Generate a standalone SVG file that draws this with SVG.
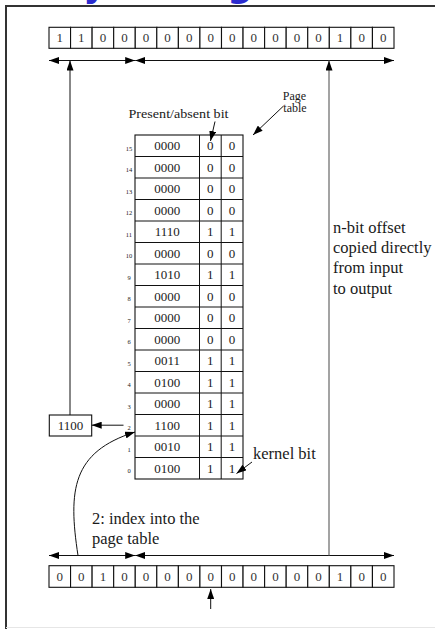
<svg xmlns="http://www.w3.org/2000/svg" width="435" height="629" viewBox="0 0 435 629">
  <style>
    .cell { fill: #fff; stroke: #111; stroke-width: 1.1; }
    .ln { fill: none; stroke: #111; stroke-width: 1; }
    .gray { fill: none; stroke: #666; stroke-width: 1.2; }
    .bit { font-family: "Liberation Serif", "DejaVu Serif", serif; font-size: 13px; text-anchor: middle; fill: #333; }
    .d { font-family: "Liberation Serif", "DejaVu Serif", serif; font-size: 13px; text-anchor: middle; fill: #1a1a1a; }
    .idx { font-family: "Liberation Serif", "DejaVu Serif", serif; font-size: 6.5px; text-anchor: middle; fill: #222; }
    .lbl { font-family: "Liberation Serif", "DejaVu Serif", serif; font-size: 16.5px; fill: #1a1a1a; }
    .sm { font-family: "Liberation Serif", "DejaVu Serif", serif; font-size: 12px; fill: #1a1a1a; }
    .title { font-family: "DejaVu Sans", sans-serif; font-weight: bold; font-size: 35.5px; fill: #2b2bcf; }
  </style>
  <defs>
    <marker id="ah" viewBox="0 0 10 7" refX="10" refY="3.5" markerWidth="10" markerHeight="7" markerUnits="userSpaceOnUse" orient="auto-start-reverse">
      <path d="M0,0 L10,3.5 L0,7 z" fill="#000"/>
    </marker>
  </defs>

  <rect x="0" y="0" width="435" height="629" fill="#fff"/>

  <!-- slide title, mostly above the visible area -->
  <text class="title" x="-55" y="-3.5">Memory Management</text>

  <!-- frame -->
  <path d="M6,629 V6 H436" fill="none" stroke="#333" stroke-width="2"/>
  <path d="M6,627.5 H435" fill="none" stroke="#e6e6e6" stroke-width="1"/>

  <!-- virtual address (input) -->
  <g id="input-address">
    <rect class="cell" x="49" y="565.7" width="21.56" height="21.6"/>
    <rect class="cell" x="70.56" y="565.7" width="21.56" height="21.6"/>
    <rect class="cell" x="92.12" y="565.7" width="21.56" height="21.6"/>
    <rect class="cell" x="113.69" y="565.7" width="21.56" height="21.6"/>
    <rect class="cell" x="135.25" y="565.7" width="21.56" height="21.6"/>
    <rect class="cell" x="156.81" y="565.7" width="21.56" height="21.6"/>
    <rect class="cell" x="178.38" y="565.7" width="21.56" height="21.6"/>
    <rect class="cell" x="199.94" y="565.7" width="21.56" height="21.6"/>
    <rect class="cell" x="221.5" y="565.7" width="21.56" height="21.6"/>
    <rect class="cell" x="243.06" y="565.7" width="21.56" height="21.6"/>
    <rect class="cell" x="264.62" y="565.7" width="21.56" height="21.6"/>
    <rect class="cell" x="286.19" y="565.7" width="21.56" height="21.6"/>
    <rect class="cell" x="307.75" y="565.7" width="21.56" height="21.6"/>
    <rect class="cell" x="329.31" y="565.7" width="21.56" height="21.6"/>
    <rect class="cell" x="350.88" y="565.7" width="21.56" height="21.6"/>
    <rect class="cell" x="372.44" y="565.7" width="21.56" height="21.6"/>
    <text class="bit" x="59.78" y="581">0</text>
    <text class="bit" x="81.34" y="581">0</text>
    <text class="bit" x="102.91" y="581">1</text>
    <text class="bit" x="124.47" y="581">0</text>
    <text class="bit" x="146.03" y="581">0</text>
    <text class="bit" x="167.59" y="581">0</text>
    <text class="bit" x="189.16" y="581">0</text>
    <text class="bit" x="210.72" y="581">0</text>
    <text class="bit" x="232.28" y="581">0</text>
    <text class="bit" x="253.84" y="581">0</text>
    <text class="bit" x="275.41" y="581">0</text>
    <text class="bit" x="296.97" y="581">0</text>
    <text class="bit" x="318.53" y="581">0</text>
    <text class="bit" x="340.09" y="581">1</text>
    <text class="bit" x="361.66" y="581">0</text>
    <text class="bit" x="383.22" y="581">0</text>
  </g>

  <!-- physical address (output) -->
  <g id="output-address">
    <rect class="cell" x="49" y="27.3" width="21.56" height="21"/>
    <rect class="cell" x="70.56" y="27.3" width="21.56" height="21"/>
    <rect class="cell" x="92.12" y="27.3" width="21.56" height="21"/>
    <rect class="cell" x="113.69" y="27.3" width="21.56" height="21"/>
    <rect class="cell" x="135.25" y="27.3" width="21.56" height="21"/>
    <rect class="cell" x="156.81" y="27.3" width="21.56" height="21"/>
    <rect class="cell" x="178.38" y="27.3" width="21.56" height="21"/>
    <rect class="cell" x="199.94" y="27.3" width="21.56" height="21"/>
    <rect class="cell" x="221.5" y="27.3" width="21.56" height="21"/>
    <rect class="cell" x="243.06" y="27.3" width="21.56" height="21"/>
    <rect class="cell" x="264.62" y="27.3" width="21.56" height="21"/>
    <rect class="cell" x="286.19" y="27.3" width="21.56" height="21"/>
    <rect class="cell" x="307.75" y="27.3" width="21.56" height="21"/>
    <rect class="cell" x="329.31" y="27.3" width="21.56" height="21"/>
    <rect class="cell" x="350.88" y="27.3" width="21.56" height="21"/>
    <rect class="cell" x="372.44" y="27.3" width="21.56" height="21"/>
    <text class="bit" x="59.78" y="42.3">1</text>
    <text class="bit" x="81.34" y="42.3">1</text>
    <text class="bit" x="102.91" y="42.3">0</text>
    <text class="bit" x="124.47" y="42.3">0</text>
    <text class="bit" x="146.03" y="42.3">0</text>
    <text class="bit" x="167.59" y="42.3">0</text>
    <text class="bit" x="189.16" y="42.3">0</text>
    <text class="bit" x="210.72" y="42.3">0</text>
    <text class="bit" x="232.28" y="42.3">0</text>
    <text class="bit" x="253.84" y="42.3">0</text>
    <text class="bit" x="275.41" y="42.3">0</text>
    <text class="bit" x="296.97" y="42.3">0</text>
    <text class="bit" x="318.53" y="42.3">0</text>
    <text class="bit" x="340.09" y="42.3">1</text>
    <text class="bit" x="361.66" y="42.3">0</text>
    <text class="bit" x="383.22" y="42.3">0</text>
  </g>

  <!-- page table: frame number | present bit | kernel bit -->
  <g id="page-table">
    <rect class="cell" x="135" y="135" width="108" height="344"/>
    <path class="ln" d="M199.5,135 V479 M221.2,135 V479" stroke-width="1.1"/>
    <path class="ln" stroke-width="1.1" d="M135,156.5 H243 M135,178 H243 M135,199.5 H243 M135,221 H243 M135,242.5 H243 M135,264 H243 M135,285.5 H243 M135,307 H243 M135,328.5 H243 M135,350 H243 M135,371.5 H243 M135,393 H243 M135,414.5 H243 M135,436 H243 M135,457.5 H243"/>

    <text class="idx" x="129" y="150.5">15</text>
    <text class="idx" x="129" y="172">14</text>
    <text class="idx" x="129" y="193.5">13</text>
    <text class="idx" x="129" y="215">12</text>
    <text class="idx" x="129" y="236.5">11</text>
    <text class="idx" x="129" y="258">10</text>
    <text class="idx" x="129" y="279.5">9</text>
    <text class="idx" x="129" y="301">8</text>
    <text class="idx" x="129" y="322.5">7</text>
    <text class="idx" x="129" y="344">6</text>
    <text class="idx" x="129" y="365.5">5</text>
    <text class="idx" x="129" y="387">4</text>
    <text class="idx" x="129" y="408.5">3</text>
    <text class="idx" x="129" y="430">2</text>
    <text class="idx" x="129" y="451.5">1</text>
    <text class="idx" x="129" y="473">0</text>

    <text class="d" x="167.25" y="150.3">0000</text><text class="d" x="210.35" y="150.3">0</text><text class="d" x="232.1" y="150.3">0</text>
    <text class="d" x="167.25" y="171.8">0000</text><text class="d" x="210.35" y="171.8">0</text><text class="d" x="232.1" y="171.8">0</text>
    <text class="d" x="167.25" y="193.3">0000</text><text class="d" x="210.35" y="193.3">0</text><text class="d" x="232.1" y="193.3">0</text>
    <text class="d" x="167.25" y="214.8">0000</text><text class="d" x="210.35" y="214.8">0</text><text class="d" x="232.1" y="214.8">0</text>
    <text class="d" x="167.25" y="236.3">1110</text><text class="d" x="210.35" y="236.3">1</text><text class="d" x="232.1" y="236.3">1</text>
    <text class="d" x="167.25" y="257.8">0000</text><text class="d" x="210.35" y="257.8">0</text><text class="d" x="232.1" y="257.8">0</text>
    <text class="d" x="167.25" y="279.3">1010</text><text class="d" x="210.35" y="279.3">1</text><text class="d" x="232.1" y="279.3">1</text>
    <text class="d" x="167.25" y="300.8">0000</text><text class="d" x="210.35" y="300.8">0</text><text class="d" x="232.1" y="300.8">0</text>
    <text class="d" x="167.25" y="322.3">0000</text><text class="d" x="210.35" y="322.3">0</text><text class="d" x="232.1" y="322.3">0</text>
    <text class="d" x="167.25" y="343.8">0000</text><text class="d" x="210.35" y="343.8">0</text><text class="d" x="232.1" y="343.8">0</text>
    <text class="d" x="167.25" y="365.3">0011</text><text class="d" x="210.35" y="365.3">1</text><text class="d" x="232.1" y="365.3">1</text>
    <text class="d" x="167.25" y="386.8">0100</text><text class="d" x="210.35" y="386.8">1</text><text class="d" x="232.1" y="386.8">1</text>
    <text class="d" x="167.25" y="408.3">0000</text><text class="d" x="210.35" y="408.3">1</text><text class="d" x="232.1" y="408.3">1</text>
    <text class="d" x="167.25" y="429.8">1100</text><text class="d" x="210.35" y="429.8">1</text><text class="d" x="232.1" y="429.8">1</text>
    <text class="d" x="167.25" y="451.3">0010</text><text class="d" x="210.35" y="451.3">1</text><text class="d" x="232.1" y="451.3">1</text>
    <text class="d" x="167.25" y="472.8">0100</text><text class="d" x="210.35" y="472.8">1</text><text class="d" x="232.1" y="472.8">1</text>
  </g>

  <!-- frame number read from the table -->
  <g id="frame-number">
    <rect class="cell" x="49.3" y="415" width="42.4" height="21"/>
    <text class="d" x="70.5" y="430">1100</text>
  </g>

  <!-- labels -->
  <g id="labels">
    <text class="sm" x="128.5" y="117.5" font-size="13" textLength="100" lengthAdjust="spacingAndGlyphs">Present/absent bit</text>
    <text class="sm" x="294.5" y="99.5" text-anchor="middle">Page</text>
    <text class="sm" x="295" y="112" text-anchor="middle">table</text>
    <text class="lbl" x="333" y="232.5">n-bit offset</text>
    <text class="lbl" x="333" y="253">copied directly</text>
    <text class="lbl" x="333" y="273">from input</text>
    <text class="lbl" x="333" y="293.5">to output</text>
    <text class="lbl" x="253" y="459">kernel bit</text>
    <text class="lbl" x="92" y="523.5">2: index into the</text>
    <text class="lbl" x="92" y="543.5">page table</text>
  </g>

  <!-- connectors -->
  <g id="connectors">
    <!-- field spans, output -->
    <path class="ln" d="M49,60.5 H135.2" marker-start="url(#ah)" marker-end="url(#ah)"/>
    <path class="ln" d="M135.2,60.5 H394" marker-start="url(#ah)" marker-end="url(#ah)"/>
    <!-- field spans, input -->
    <path class="ln" d="M49,555.5 H135.2" marker-start="url(#ah)" marker-end="url(#ah)"/>
    <path class="ln" d="M135.2,555.5 H394" marker-start="url(#ah)" marker-end="url(#ah)"/>
    <!-- offset copied straight up -->
    <path class="gray" d="M329,555.5 V60.5" marker-end="url(#ah)"/>
    <!-- frame number up to output -->
    <path class="ln" d="M70,415 V60.5" marker-end="url(#ah)"/>
    <!-- table row to frame number -->
    <path class="ln" d="M123.5,425.2 H91.7" marker-end="url(#ah)"/>
    <!-- page index into the table -->
    <path class="ln" d="M78,555.5 C68,490 72,452 135,432" marker-end="url(#ah)"/>
    <!-- label pointers -->
    <path class="ln" d="M283.5,106 L253,135" marker-end="url(#ah)"/>
    <path class="ln" d="M215,121.5 L210.5,141" marker-end="url(#ah)"/>
    <path class="ln" d="M252,462 L236.5,473.5" marker-end="url(#ah)"/>
    <!-- incoming address -->
    <path class="ln" d="M210.7,609 V589" marker-end="url(#ah)"/>
  </g>
</svg>
